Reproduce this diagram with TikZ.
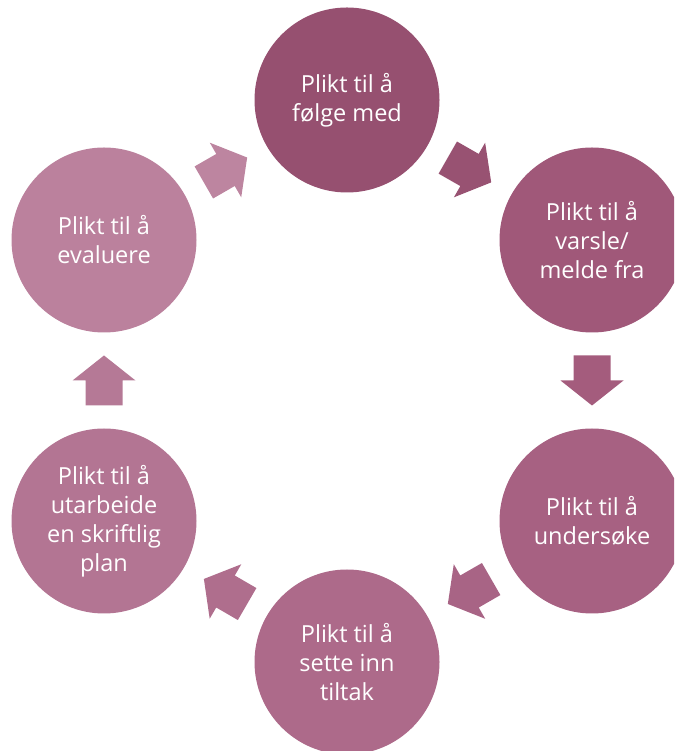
\documentclass[tikz,border=0pt]{standalone}
\usepackage{fontspec}
\setmainfont{Open Sans}
\usetikzlibrary{calc}
\definecolor{cA}{RGB}{150,80,112}
\definecolor{cB}{RGB}{160,88,121}
\definecolor{cC}{RGB}{167,97,130}
\definecolor{cD}{RGB}{173,106,138}
\definecolor{cE}{RGB}{179,117,147}
\definecolor{cF}{RGB}{187,129,157}
\definecolor{aA}{RGB}{152,82,114}
\definecolor{aB}{RGB}{164,92,125}
\definecolor{aC}{RGB}{168,100,133}
\definecolor{aD}{RGB}{175,110,141}
\definecolor{aE}{RGB}{181,121,150}
\definecolor{aF}{RGB}{189,133,160}
\begin{document}
\begin{tikzpicture}[x=1pt,y=1pt,
  stage/.style={circle,minimum size=185pt,inner sep=0pt,align=center,text=white,
    font=\fontsize{23.5}{29}\selectfont},
  blockarrow/.pic={\fill (-25,-18.5) -- (0,-18.5) -- (0,-31.5) -- (25,0) -- (0,31.5) -- (0,18.5) -- (-25,18.5) -- cycle;}]
\useasboundingbox (0,0) rectangle (674,751);
\clip (0,0) rectangle (674,751);
\node[stage,fill=cA] (s1) at (347,651) {Plikt til å\\følge med};
\node[stage,fill=cB] (s2) at (592,511) {Plikt til å\\varsle/\\melde fra};
\node[stage,fill=cC] (s3) at (592,230) {Plikt til å\\undersøke};
\node[stage,fill=cD] (s4) at (347,89) {Plikt til å\\sette inn\\tiltak};
\node[stage,fill=cE] (s5) at (104,230) {Plikt til å\\utarbeide\\en skriftlig\\plan};
\node[stage,fill=cF] (s6) at (104,511) {Plikt til å\\evaluere};
\foreach \a/\b/\c in {s1/s2/aA,s2/s3/aB,s3/s4/aC,s4/s5/aD,s5/s6/aE,s6/s1/aF}{
  \path[fill=\c] let \p1=($(\b)-(\a)$), \n1={atan2(\y1,\x1)} in
    ($(\a)!0.5!(\b)$) pic[rotate=\n1,fill=\c]{blockarrow};
}
\end{tikzpicture}
\end{document}
